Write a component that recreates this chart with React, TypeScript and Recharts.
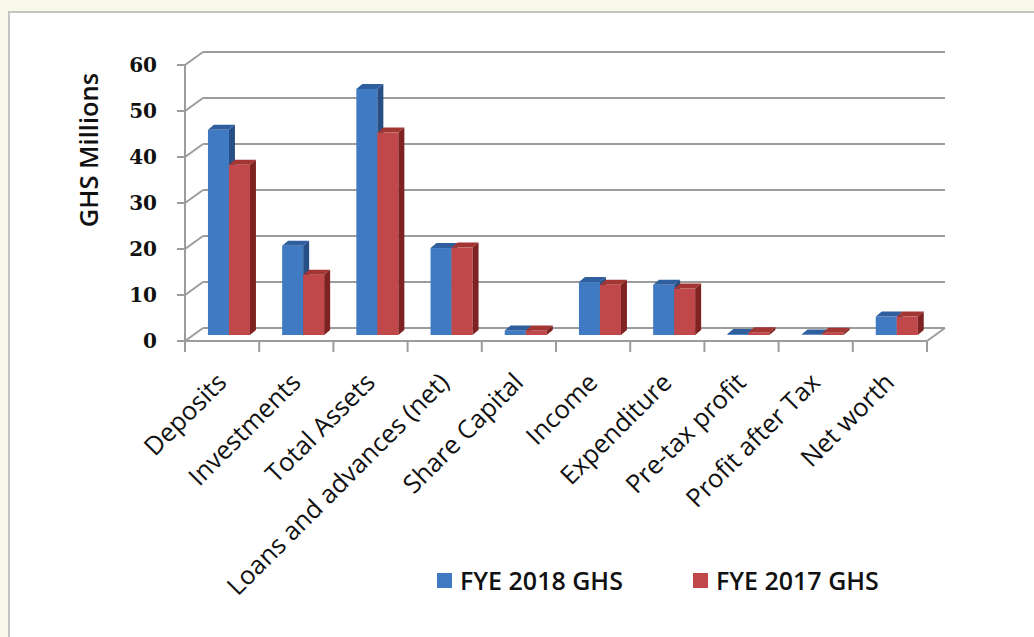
import React from 'react';
import { BarChart, Bar, XAxis, YAxis, CartesianGrid, Legend } from 'recharts';

const categories = [
  'Deposits',
  'Investments',
  'Total Assets',
  'Loans and advances (net)',
  'Share Capital',
  'Income',
  'Expenditure',
  'Pre-tax profit',
  'Profit after Tax',
  'Net worth',
];
const fye2018 = [44.6, 19.4, 53.5, 18.9, 1.0, 11.5, 10.9, 0.2, 0.1, 4.0];
const fye2017 = [37.0, 13.1, 44.0, 19.0, 1.0, 10.9, 10.1, 0.6, 0.5, 4.0];
const yTicks = [0, 10, 20, 30, 40, 50, 60];
const seriesNames = ['FYE 2018 GHS', 'FYE 2017 GHS'];

const data = categories.map((name, i) => ({ name, fye2018: fye2018[i], fye2017: fye2017[i] }));

const W = 1034;
const H = 637;
const PLOT_TOP = 65;
const PLOT_BOTTOM = 341;
const PLOT_LEFT = 185;
const PLOT_RIGHT = 927;
const X_AXIS_H = 1;

// 3D depth offsets
const WALL_DX = 18;
const WALL_DY = -13;
const BAR_DX = 7;
const BAR_DY = -6;
const DEPTH_X = 6;
const DEPTH_Y = -5;

const GRID = '#9c9c9c';

const palette = {
  blue: { front: '#407ac2', top: '#2f5f9e', side: '#274f86' },
  red: { front: '#c0484a', top: '#a33633', side: '#7e2321' },
};

const make3DBar = (c: { front: string; top: string; side: string }) => (props: any) => {
  const { x, y, width, height } = props;
  if (x == null || y == null) return <g />;
  const fx = x + BAR_DX;
  const fy = y + BAR_DY;
  const h = Math.max(0, height);
  const top = `${fx},${fy} ${fx + DEPTH_X},${fy + DEPTH_Y} ${fx + width + DEPTH_X},${fy + DEPTH_Y} ${fx + width},${fy}`;
  const side = `${fx + width},${fy} ${fx + width + DEPTH_X},${fy + DEPTH_Y} ${fx + width + DEPTH_X},${fy + h + DEPTH_Y} ${fx + width},${fy + h}`;
  return (
    <g>
      <rect x={fx} y={fy} width={width} height={h} fill={c.front} />
      <polygon points={top} fill={c.top} />
      <polygon points={side} fill={c.side} />
    </g>
  );
};

const gridLine = (props: any) => {
  const { x1, y1, x2, y2 } = props;
  const isFloor = props.index === 0 || Math.abs(y1 - PLOT_BOTTOM) < 2;
  return (
    <g key={props.key}>
      <line x1={x1} y1={y1} x2={x1 + WALL_DX} y2={y1 + WALL_DY} stroke={GRID} strokeWidth={2} />
      <line x1={x1 + WALL_DX} y1={y1 + WALL_DY} x2={x2 + WALL_DX} y2={y2 + WALL_DY} stroke={GRID} strokeWidth={2} />
      {isFloor && (
        <line x1={x2} y1={y2} x2={x2 + WALL_DX} y2={y2 + WALL_DY} stroke={GRID} strokeWidth={2} />
      )}
    </g>
  );
};

const XTick = (props: any) => {
  const { x, y, payload, index } = props;
  const half = payload && payload.offset ? payload.offset : 37.1;
  const ax = x + 6;
  const ay = y + 43;
  return (
    <g>
      <line x1={x - half} y1={y} x2={x - half} y2={y + 11} stroke={GRID} strokeWidth={2} />
      {index === categories.length - 1 && (
        <line x1={x + half} y1={y} x2={x + half} y2={y + 11} stroke={GRID} strokeWidth={2} />
      )}
      <text
        x={ax}
        y={ay}
        textAnchor="end"
        transform={`rotate(-45, ${ax}, ${ay})`}
        fontFamily="'Open Sans', sans-serif"
        fontSize={25.5}
        fill="#111"
      >
        {payload.value}
      </text>
    </g>
  );
};

const YLabel = () => (
  <text
    x={88}
    y={150}
    transform="rotate(-90, 88, 150)"
    textAnchor="middle"
    dominantBaseline="central"
    fontFamily="'Open Sans', sans-serif"
    fontWeight={600}
    fontSize={25.5}
    fill="#111"
  >
    GHS Millions
  </text>
);

const LegendContent = (props: any) => {
  const payload = [...(props.payload || [])].sort(
    (a: any, b: any) => seriesNames.indexOf(a.value) - seriesNames.indexOf(b.value)
  );
  return (
    <div style={{ display: 'flex', alignItems: 'center' }}>
      {payload.map((p: any, i: number) => (
        <div key={i} style={{ display: 'flex', alignItems: 'center', marginRight: i === 0 ? 70 : 0 }}>
          <div style={{ width: 15, height: 15, background: p.color, marginRight: 8 }} />
          <span
            style={{
              fontFamily: "'Open Sans', sans-serif",
              fontWeight: 600,
              fontSize: 25,
              color: '#111',
              lineHeight: '30px',
            }}
          >
            {p.value}
          </span>
        </div>
      ))}
    </div>
  );
};

export default function App() {
  return (
    <div style={{ position: 'absolute', left: 0, top: 0, width: W, height: H, overflow: 'hidden', background: '#f8f8ea' }}>
      <div
        style={{
          position: 'absolute',
          left: 8,
          top: 11,
          width: 1100,
          height: 700,
          background: '#ffffff',
          borderLeft: '2px solid #c4c4c4',
          borderTop: '2px solid #c4c4c4',
        }}
      />
      <div style={{ position: 'absolute', left: 0, top: 0 }}>
        <BarChart
          width={W}
          height={H}
          data={data}
          margin={{ top: PLOT_TOP, right: W - PLOT_RIGHT, bottom: H - PLOT_BOTTOM - X_AXIS_H, left: 0 }}
          barCategoryGap="21.5%"
          barGap={0}
        >
          <CartesianGrid horizontal={gridLine} vertical={false} />
          <YAxis
            width={PLOT_LEFT}
            domain={[0, 60]}
            ticks={yTicks}
            interval={0}
            tickSize={8}
            tickMargin={20}
            axisLine={{ stroke: GRID, strokeWidth: 2 }}
            tickLine={{ stroke: GRID, strokeWidth: 2 }}
            tick={{ fontFamily: "'DejaVu Serif', serif", fontWeight: 700, fontSize: 20, fill: '#111' }}
            label={<YLabel />}
          />
          <XAxis
            dataKey="name"
            height={X_AXIS_H}
            interval={0}
            tickSize={0}
            tickMargin={0}
            axisLine={{ stroke: GRID, strokeWidth: 2 }}
            tickLine={false}
            tick={<XTick />}
          />
          <Legend
            layout="horizontal"
            verticalAlign="middle"
            align="center"
            content={<LegendContent />}
            wrapperStyle={{ left: 437, top: 565, width: 520, height: 30 }}
          />
          <Bar dataKey="fye2018" name={seriesNames[0]} fill={palette.blue.front} shape={make3DBar(palette.blue)} isAnimationActive={false} />
          <Bar dataKey="fye2017" name={seriesNames[1]} fill={palette.red.front} shape={make3DBar(palette.red)} isAnimationActive={false} />
        </BarChart>
      </div>
    </div>
  );
}
